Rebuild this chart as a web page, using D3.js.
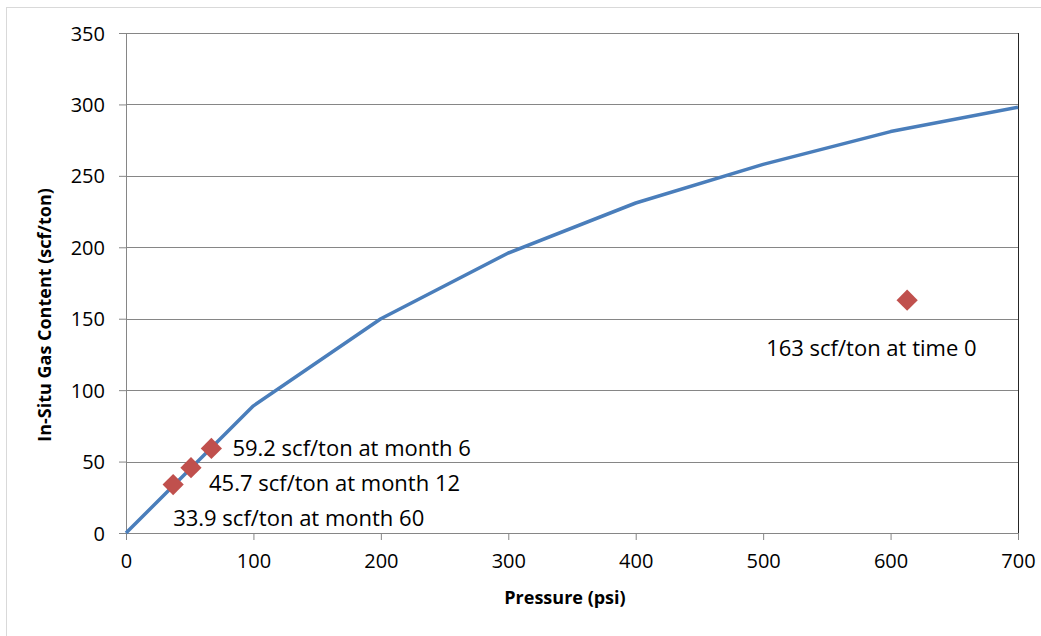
<!DOCTYPE html>
<html>
<head>
<meta charset="utf-8">
<script src="https://cdn.jsdelivr.net/npm/d3@7"></script>
<style>
  body { margin: 0; background: #fff; }
  svg { font-family: "Open Sans", sans-serif; }
</style>
</head>
<body>
<div id="chart"></div>
<script>
// curve: pressure (psi) vs in-situ gas content (scf/ton)
var pressure = [0, 100, 200, 300, 400, 500, 600, 700];
var gasContent = [0, 89, 150, 196, 231, 258, 281, 298];

// measured points
var pointPressure = [613, 67, 51, 37];
var pointGas = [163, 59.2, 45.7, 33.9];
var pointLabels = ['163 scf/ton at time 0', '59.2 scf/ton at month 6',
  '45.7 scf/ton at month 12', '33.9 scf/ton at month 60'];

var xTicks = [0, 100, 200, 300, 400, 500, 600, 700];
var yTicks = [0, 50, 100, 150, 200, 250, 300, 350];

var svgWidth = 1041;
var svgHeight = 636;
var margin = {top: 33, right: 23, bottom: 103, left: 126};
var width = svgWidth - margin.left - margin.right;
var height = svgHeight - margin.top - margin.bottom;

var xScale = d3.scaleLinear().domain([0, 700]).range([0, width]);
var yScale = d3.scaleLinear().domain([0, 350]).range([height, 0]);

var svg = d3.select('#chart').append('svg')
  .attr('width', svgWidth)
  .attr('height', svgHeight);

// outer chart border
svg.append('rect')
  .attr('x', 6.5).attr('y', 7.5)
  .attr('width', svgWidth).attr('height', svgHeight)
  .attr('fill', 'none')
  .attr('stroke', '#d9d9d9');

var main = svg.append('g')
  .attr('transform', 'translate(' + margin.left + ',' + margin.top + ')');

// horizontal gridlines
main.append('g')
  .selectAll('line')
  .data(yTicks.slice(1))
  .enter()
  .append('line')
  .attr('x1', 0).attr('x2', width)
  .attr('y1', function(d) { return Math.round(yScale(d)) + 0.5; })
  .attr('y2', function(d) { return Math.round(yScale(d)) + 0.5; })
  .attr('stroke', '#868686')
  .attr('stroke-width', 1);

// right border of plot area
main.append('line')
  .attr('x1', width + 0.5).attr('x2', width + 0.5)
  .attr('y1', 0).attr('y2', height)
  .attr('stroke', '#262626');

var xAxis = d3.axisBottom(xScale).tickValues(xTicks).tickSize(7).tickSizeOuter(0).tickPadding(14);
var yAxis = d3.axisLeft(yScale).tickValues(yTicks).tickSize(7).tickSizeOuter(0).tickPadding(14);

var gx = main.append('g')
  .attr('transform', 'translate(0,' + height + ')')
  .call(xAxis);

var gy = main.append('g')
  .call(yAxis);

[gx, gy].forEach(function(g) {
  g.select('.domain').attr('stroke', '#868686');
  g.selectAll('.tick line').attr('stroke', '#868686');
  g.selectAll('.tick text')
    .attr('font-size', 20)
    .attr('fill', '#000')
    .attr('font-family', '"Open Sans", sans-serif');
});
gy.selectAll('.tick text').attr('dy', '0.35em');

// gas content curve
var line = d3.line()
  .x(function(d, i) { return xScale(pressure[i]); })
  .y(function(d) { return yScale(d); });

main.append('path')
  .datum(gasContent)
  .attr('d', line)
  .attr('fill', 'none')
  .attr('stroke', '#4a7ebb')
  .attr('stroke-width', 3.5)
  .attr('stroke-linejoin', 'round');

// diamonds
var diamond = d3.symbol().type(d3.symbolSquare).size(225);
main.append('g')
  .selectAll('path')
  .data(pointGas)
  .enter()
  .append('path')
  .attr('d', diamond)
  .attr('transform', function(d, i) {
    return 'translate(' + xScale(pointPressure[i]) + ',' + yScale(d) + ') rotate(45)';
  })
  .attr('fill', '#c0504d');

// label offsets from each point
var labelDx = [-141, 21, 18, 0];
var labelDy = [48, 0, 16, 34];
main.append('g')
  .selectAll('text')
  .data(pointLabels)
  .enter()
  .append('text')
  .attr('x', function(d, i) { return xScale(pointPressure[i]) + labelDx[i]; })
  .attr('y', function(d, i) { return yScale(pointGas[i]) + labelDy[i]; })
  .attr('dy', '0.35em')
  .attr('font-size', 22)
  .attr('fill', '#000')
  .text(function(d) { return d; });

// axis titles
svg.append('text')
  .attr('x', 565)
  .attr('y', 598)
  .attr('dy', '0.35em')
  .attr('text-anchor', 'middle')
  .attr('font-size', 18)
  .attr('font-weight', 'bold')
  .text('Pressure (psi)');

svg.append('text')
  .attr('transform', 'translate(45,315) rotate(-90)')
  .attr('dy', '0.35em')
  .attr('text-anchor', 'middle')
  .attr('font-size', 18)
  .attr('font-weight', 'bold')
  .text('In-Situ Gas Content (scf/ton)');
</script>
</body>
</html>
